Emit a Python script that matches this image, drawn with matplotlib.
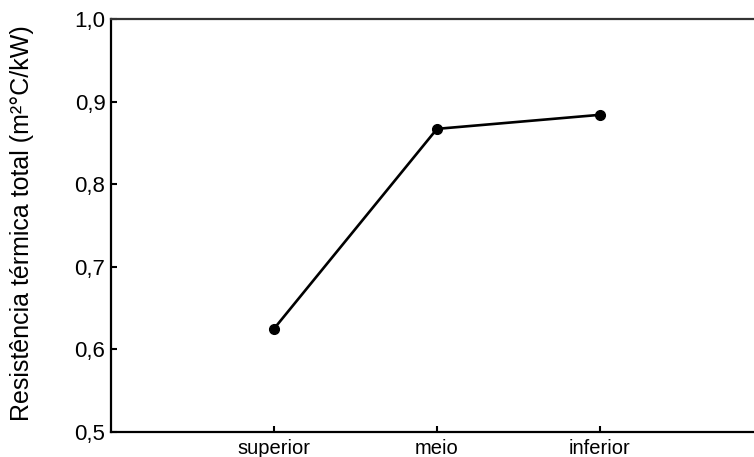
import matplotlib
matplotlib.use('Agg')
import matplotlib.pyplot as plt

plt.rcParams['font.family'] = ['Liberation Sans', 'DejaVu Sans']

posicoes = ['superior', 'meio', 'inferior']
resistencia = [0.625, 0.867, 0.884]
y_ticks = [0.5, 0.6, 0.7, 0.8, 0.9, 1.0]
y_labels = ['0,5', '0,6', '0,7', '0,8', '0,9', '1,0']

W, H = 754, 457
fig = plt.figure(figsize=(W / 100, H / 100), dpi=100)
# eixo estende-se para lá da margem direita
ax = fig.add_axes([111 / W, (H - 432) / H, (763 - 111) / W, 413 / H])

x = list(range(1, len(posicoes) + 1))
ax.plot(x, resistencia, color='black', lw=1.9, marker='o', ms=7)

ax.set_xlim(0, 4)
ax.set_ylim(0.5, 1.0)
ax.set_xticks(x)
ax.set_xticklabels(posicoes, fontsize=14.5)
ax.set_yticks(y_ticks)
ax.set_yticklabels(y_labels, fontsize=16)
ax.tick_params(direction='in', length=4, width=1.5, colors='black')
ax.tick_params(axis='x', pad=5)
ax.tick_params(axis='y', pad=4)
for s in ax.spines.values():
    s.set_linewidth(1.6)
ax.spines['top'].set_color('#333333')

ax.set_ylabel('Resistência térmica total (m²°C/kW)', fontsize=18)
ax.yaxis.set_label_coords(-0.118, 0.505)

fig.savefig('out.png', dpi=100)
